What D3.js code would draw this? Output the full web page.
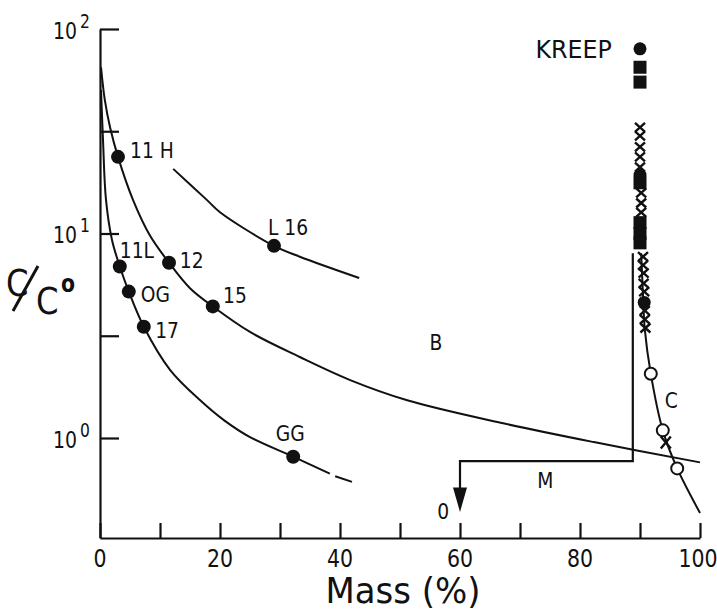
<!DOCTYPE html>
<html><head><meta charset="utf-8">
<script src="https://cdn.jsdelivr.net/npm/d3@7"></script>
<style>
body{margin:0;background:#fff}
svg text{font-family:"DejaVu Sans",sans-serif;fill:#111}
</style></head><body>
<svg id="c" width="717" height="614"></svg>
<script>
// ---------- data ----------
const massTicks = [0,10,20,30,40,50,60,70,80,90,100];
const massTickLabels = [0,20,40,60,80,100];
const yMajorExponents = [2,1,0];
const yMinorExponents = [1.5,0.5];

// curve through 11L, OG, 17, GG
const curveAMass  = [0.17,0.5,1.0,2.0,3.3,4.8,7.3,11.7,16.7,20.7,25,32.2,38.3];
const curveAValue = [50.3,28.7,14.6,9.3,6.9,5.2,3.5,2.15,1.53,1.22,1.01,0.81,0.67];
const curveADashMass  = [39.2,42];
const curveADashValue = [0.65,0.61];
// curve B through 11H, 12, 15
const curveBMass  = [0.17,0.8,1.7,3.0,5.5,8.3,11.5,15,18.8,25,33.3,41.7,51.2,67.2,82.3,100];
const curveBValue = [65,45,32.8,23.7,14.6,9.8,7.2,5.4,4.4,3.3,2.49,1.92,1.53,1.18,0.955,0.76];
// curve through L16
const curveLMass  = [12.2,17.8,20,29,33.3,43.2];
const curveLValue = [20.7,14.6,12.7,8.7,7.7,6.06];
// curve C
const curveCMass  = [90.2,90.5,90.8,91.8,93.8,96.2,100];
const curveCValue = [8.0,5.0,3.4,2.06,1.09,0.71,0.43];
// path M
const pathMMass  = [88.8,88.8,60,60];
const pathMValue = [8.0,0.77,0.77,0.56];
const arrowTipValue = 0.435;

// sample points (filled)
const sampleNames = ["11 H","L 16","11L","12","OG","15","17","GG"];
const sampleMass  = [3.0,29.0,3.3,11.5,4.8,18.8,7.3,32.2];
const sampleValue = [23.7,8.7,6.9,7.2,5.2,4.4,3.5,0.81];
// open circles & cross on curve C
const openMass  = [91.8,93.8,96.2];
const openValue = [2.06,1.09,0.71];
const crossCMass = [94.3];
const crossCValue = [0.95];
// KREEP column
const kreepMass   = [90,90,90,90,90,90,90,90,90,90,90.2,90.2,90.2,90,90,90,90.5,90.5,90.6,90.6,90.7,90.7,90.8,90.8,90.9];
const kreepValue  = [80,65,55,33,30,26.5,23.7,21.1,19.3,17.7,15.8,14.1,12.7,11.3,10,9,7.7,7.0,6.4,5.7,5.2,4.6,4.2,3.8,3.45];
const kreepSymbol = ["dot","sq","sq","x","x","x","x","x","dot","sq","x","x","x","sq","sq","sq","x","x","x","x","x","dot","x","x","x"];

// text annotations (mass %, value)
const annoText  = ["11 H","L 16","11L","12","OG","15","17","B","GG","M","0","C","KREEP"];
const annoMass  = [5.0,28.0,3.3,13.3,6.8,20.5,9.2,56.0,31.7,74.2,57.2,95.2,85.3];
const annoValue = [23.4,9.8,7.59,6.78,4.62,4.57,3.08,2.69,0.967,0.57,0.40,1.40,72];
const annoAnchor= ["start","start","start","start","start","start","start","middle","middle","middle","middle","middle","end"];

// ---------- drawing ----------
const svg = d3.select("#c");
const ink = "#111";
const x = d3.scaleLinear().domain([0,100]).range([100,700]);
const y = d3.scaleLog().domain([Math.pow(10,-0.489),100]).range([538,29]);

function addText(px,py,str,size,anchor,squeeze,extra){
  const t = svg.append("text")
    .attr("transform",`translate(${px},${py}) scale(${squeeze||0.84},1)`)
    .attr("text-anchor",anchor||"start").attr("font-size",size).text(str);
  if (extra) extra(t);
  return t;
}

// axes
const xAxis = d3.axisBottom(x).tickValues(massTicks).tickSize(-15).tickSizeOuter(0).tickFormat("");
const gx = svg.append("g").attr("transform","translate(0,538)").call(xAxis);
gx.selectAll("path,line").attr("stroke",ink).attr("stroke-width",2.2);
massTickLabels.forEach(v => addText(x(v) - (v===100?2:0), 567, String(v), 25, "middle", 0.82));

const yTickVals = yMajorExponents.concat(yMinorExponents).map(e => Math.pow(10,e));
const yAxis = d3.axisLeft(y).tickValues(yTickVals).tickSize(-19).tickSizeOuter(0).tickFormat("");
const gy = svg.append("g").attr("transform","translate(100,0)").call(yAxis);
gy.selectAll("path,line").attr("stroke",ink).attr("stroke-width",2.2);

yMajorExponents.forEach(e => {
  const ty = y(Math.pow(10,e));
  addText(77, ty+10, "10", 23, "end", 0.82);
  addText(80, ty-1, String(e), 19, "start", 0.82);
});

// axis titles
addText(403, 603, "Mass  (%)", 35, "middle", 0.97);
addText(6, 296, "C", 38, "start", 0.85);
svg.append("line").attr("x1",13).attr("y1",311).attr("x2",38).attr("y2",266).attr("stroke",ink).attr("stroke-width",3);
addText(36, 314, "C", 38, "start", 0.85);
addText(61, 292, "o", 24, "start", 0.85, t => t.attr("font-weight","bold"));

// lines
const line = d3.line().x(d => x(d[0])).y(d => y(d[1])).curve(d3.curveCatmullRom.alpha(0.5));
const zip = (a,b) => a.map((v,i) => [v,b[i]]);
function drawCurve(m,v,w){
  svg.append("path").datum(zip(m,v)).attr("d",line).attr("fill","none").attr("stroke",ink).attr("stroke-width",w||2);
}
drawCurve(curveAMass,curveAValue);
drawCurve(curveADashMass,curveADashValue);
drawCurve(curveBMass,curveBValue);
drawCurve(curveLMass,curveLValue);
drawCurve(curveCMass,curveCValue);
svg.append("path").datum(zip(pathMMass,pathMValue))
  .attr("d",d3.line().x(d => x(d[0])).y(d => y(d[1]))).attr("fill","none").attr("stroke",ink).attr("stroke-width",2.2);
{
  const ax = x(pathMMass[3]), ay = y(pathMValue[3]), ty = y(arrowTipValue);
  svg.append("path").attr("d",`M${ax-7},${ay-2}L${ax+7},${ay-2}L${ax},${ty}Z`).attr("fill",ink);
}

// sample points
svg.selectAll("circle.s").data(zip(sampleMass,sampleValue)).join("circle")
  .attr("cx",d => x(d[0])).attr("cy",d => y(d[1])).attr("r",7).attr("fill",ink);
svg.selectAll("circle.o").data(zip(openMass,openValue)).join("circle")
  .attr("cx",d => x(d[0])).attr("cy",d => y(d[1])).attr("r",6).attr("fill","#fff").attr("stroke",ink).attr("stroke-width",2);
function cross(cx,cy,w,h){
  svg.append("path").attr("d",`M${cx-w},${cy-h}L${cx+w},${cy+h}M${cx+w},${cy-h}L${cx-w},${cy+h}`)
    .attr("stroke",ink).attr("stroke-width",2.4).attr("fill","none");
}
crossCMass.forEach((m,i) => cross(x(m),y(crossCValue[i]),5,6));
kreepMass.forEach((m,i) => {
  const cx = x(m), cy = y(kreepValue[i]), s = kreepSymbol[i];
  if (s === "dot") svg.append("circle").attr("cx",cx).attr("cy",cy).attr("r",6.5).attr("fill",ink);
  else if (s === "sq") svg.append("rect").attr("x",cx-6.5).attr("y",cy-6.5).attr("width",13).attr("height",13).attr("fill",ink);
  else cross(cx,cy,5,4.5);
});

// annotations
annoText.forEach((t,i) => {
  if (t === "KREEP") addText(x(annoMass[i]), y(annoValue[i]), t, 25, annoAnchor[i], 0.95);
  else addText(x(annoMass[i]), y(annoValue[i]), t, 22, annoAnchor[i], 0.85);
});
</script>
</body></html>
